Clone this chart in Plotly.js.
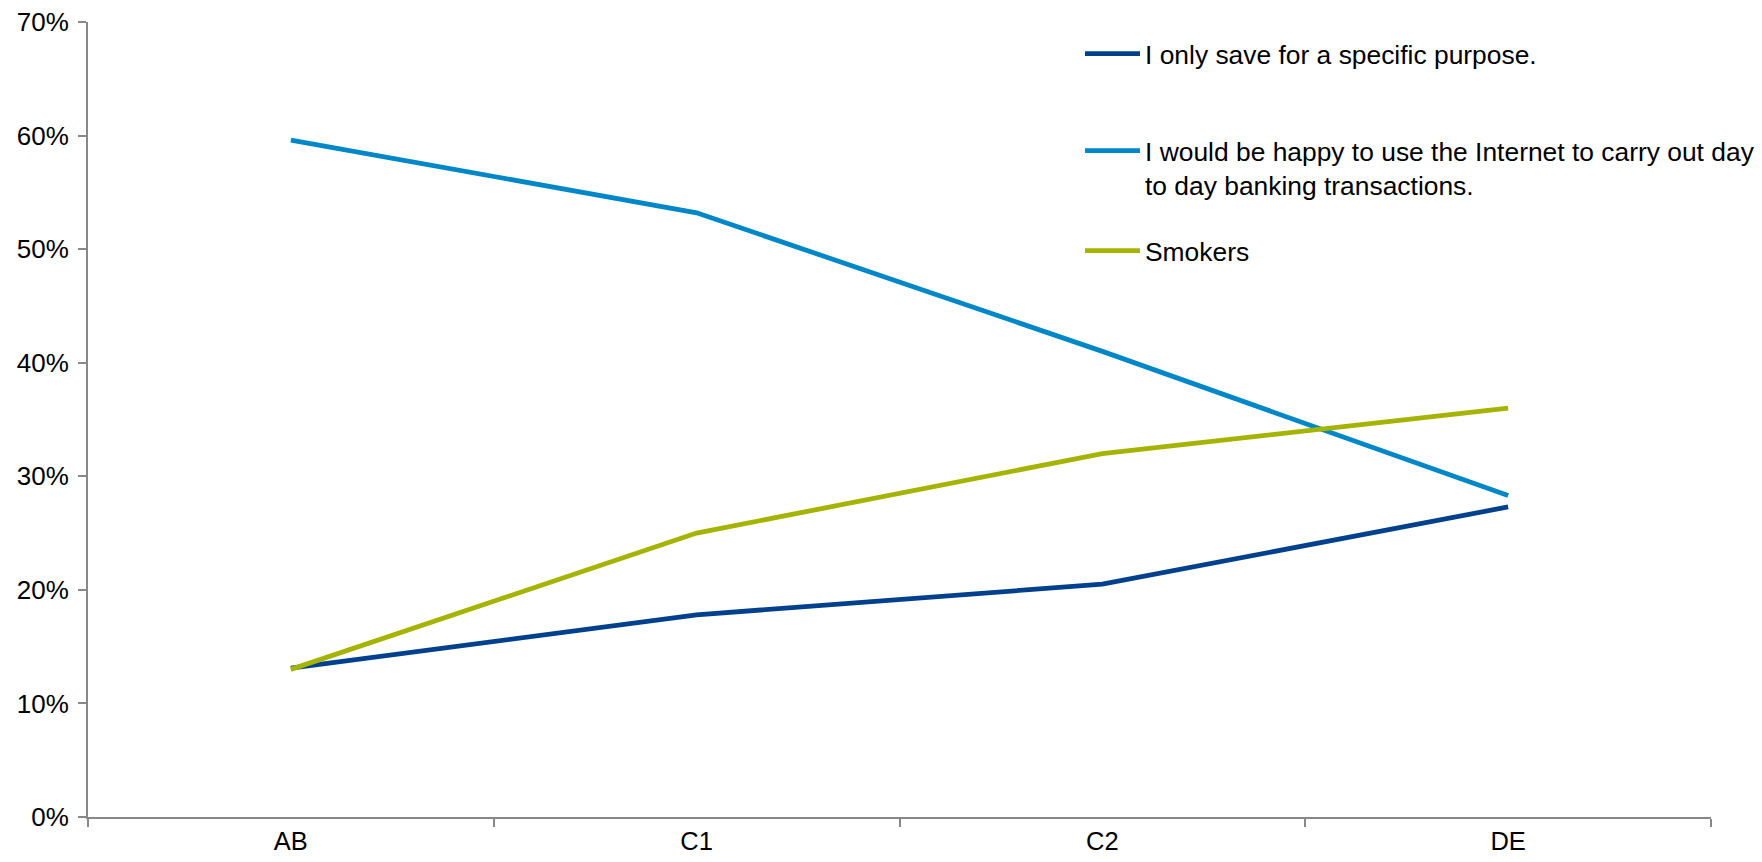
<!DOCTYPE html>
<html>
<head>
<meta charset="utf-8">
<script src="https://cdn.plot.ly/plotly-3.0.1.min.js"></script>
<style>html,body{margin:0;padding:0;background:#fff;}#chart{width:1762px;height:862px;}</style>
</head>
<body>
<div id="chart"></div>
<script>
const categories = ["AB", "C1", "C2", "DE"];
const seriesNames = [
  "I only save for a specific purpose.",
  "I would be happy to use the Internet to carry out day<br>to day banking transactions.",
  "Smokers"
];
const saveSpecific = [0.131, 0.178, 0.205, 0.273];
const internetBanking = [0.596, 0.532, 0.410, 0.283];
const smokers = [0.130, 0.250, 0.320, 0.360];
const yTickVals = [0, 0.1, 0.2, 0.3, 0.4, 0.5, 0.6, 0.7];
const yTickText = ["0%", "10%", "20%", "30%", "40%", "50%", "60%", "70%"];

const colors = ["#00408C", "#0087C8", "#A5B400"];
const FONT = "Liberation Sans, Arial, sans-serif";

const traces = [saveSpecific, internetBanking, smokers].map((vals, i) => ({
  type: "scatter",
  mode: "lines",
  x: categories,
  y: vals,
  name: seriesNames[i],
  line: {color: colors[i], width: 4.8},
  legend: i === 0 ? "legend" : "legend" + (i + 1),
  hoverinfo: "x+y+name"
}));

const legendBase = {
  xref: "container", yref: "container",
  x: 1080 / 1762, xanchor: "left", yanchor: "middle",
  bgcolor: "rgba(0,0,0,0)", borderwidth: 0,
  font: {family: FONT, size: 26.4, color: "#000"},
  itemwidth: 55, valign: "top"
};

const layout = {
  width: 1762, height: 862,
  margin: {l: 88, r: 51, t: 22, b: 45, autoexpand: false},
  paper_bgcolor: "#fff", plot_bgcolor: "#fff",
  font: {family: FONT, color: "#000"},
  showlegend: true,
  legend: Object.assign({}, legendBase, {y: 1 - 54 / 862}),
  legend2: Object.assign({}, legendBase, {y: 1 - 168 / 862}),
  legend3: Object.assign({}, legendBase, {y: 1 - 251 / 862}),
  xaxis: {
    type: "category",
    range: [-0.5, 3.5],
    showgrid: false, zeroline: false,
    showline: true, linecolor: "#888888", linewidth: 2,
    ticks: "outside", tickson: "boundaries", ticklen: 8, tickwidth: 1.5, tickcolor: "#888888",
    tickfont: {family: FONT, size: 25.5, color: "#000"}
  },
  yaxis: {
    range: [0, 0.7],
    tickvals: yTickVals, ticktext: yTickText,
    showgrid: false, zeroline: false,
    showline: true, linecolor: "#888888", linewidth: 2,
    ticks: "outside", ticklen: 8, tickwidth: 1.5, tickcolor: "#888888",
    ticklabelstandoff: 4,
    tickfont: {family: FONT, size: 26, color: "#000"}
  }
};

Plotly.newPlot("chart", traces, layout, {displayModeBar: false, responsive: false});
</script>
</body>
</html>
